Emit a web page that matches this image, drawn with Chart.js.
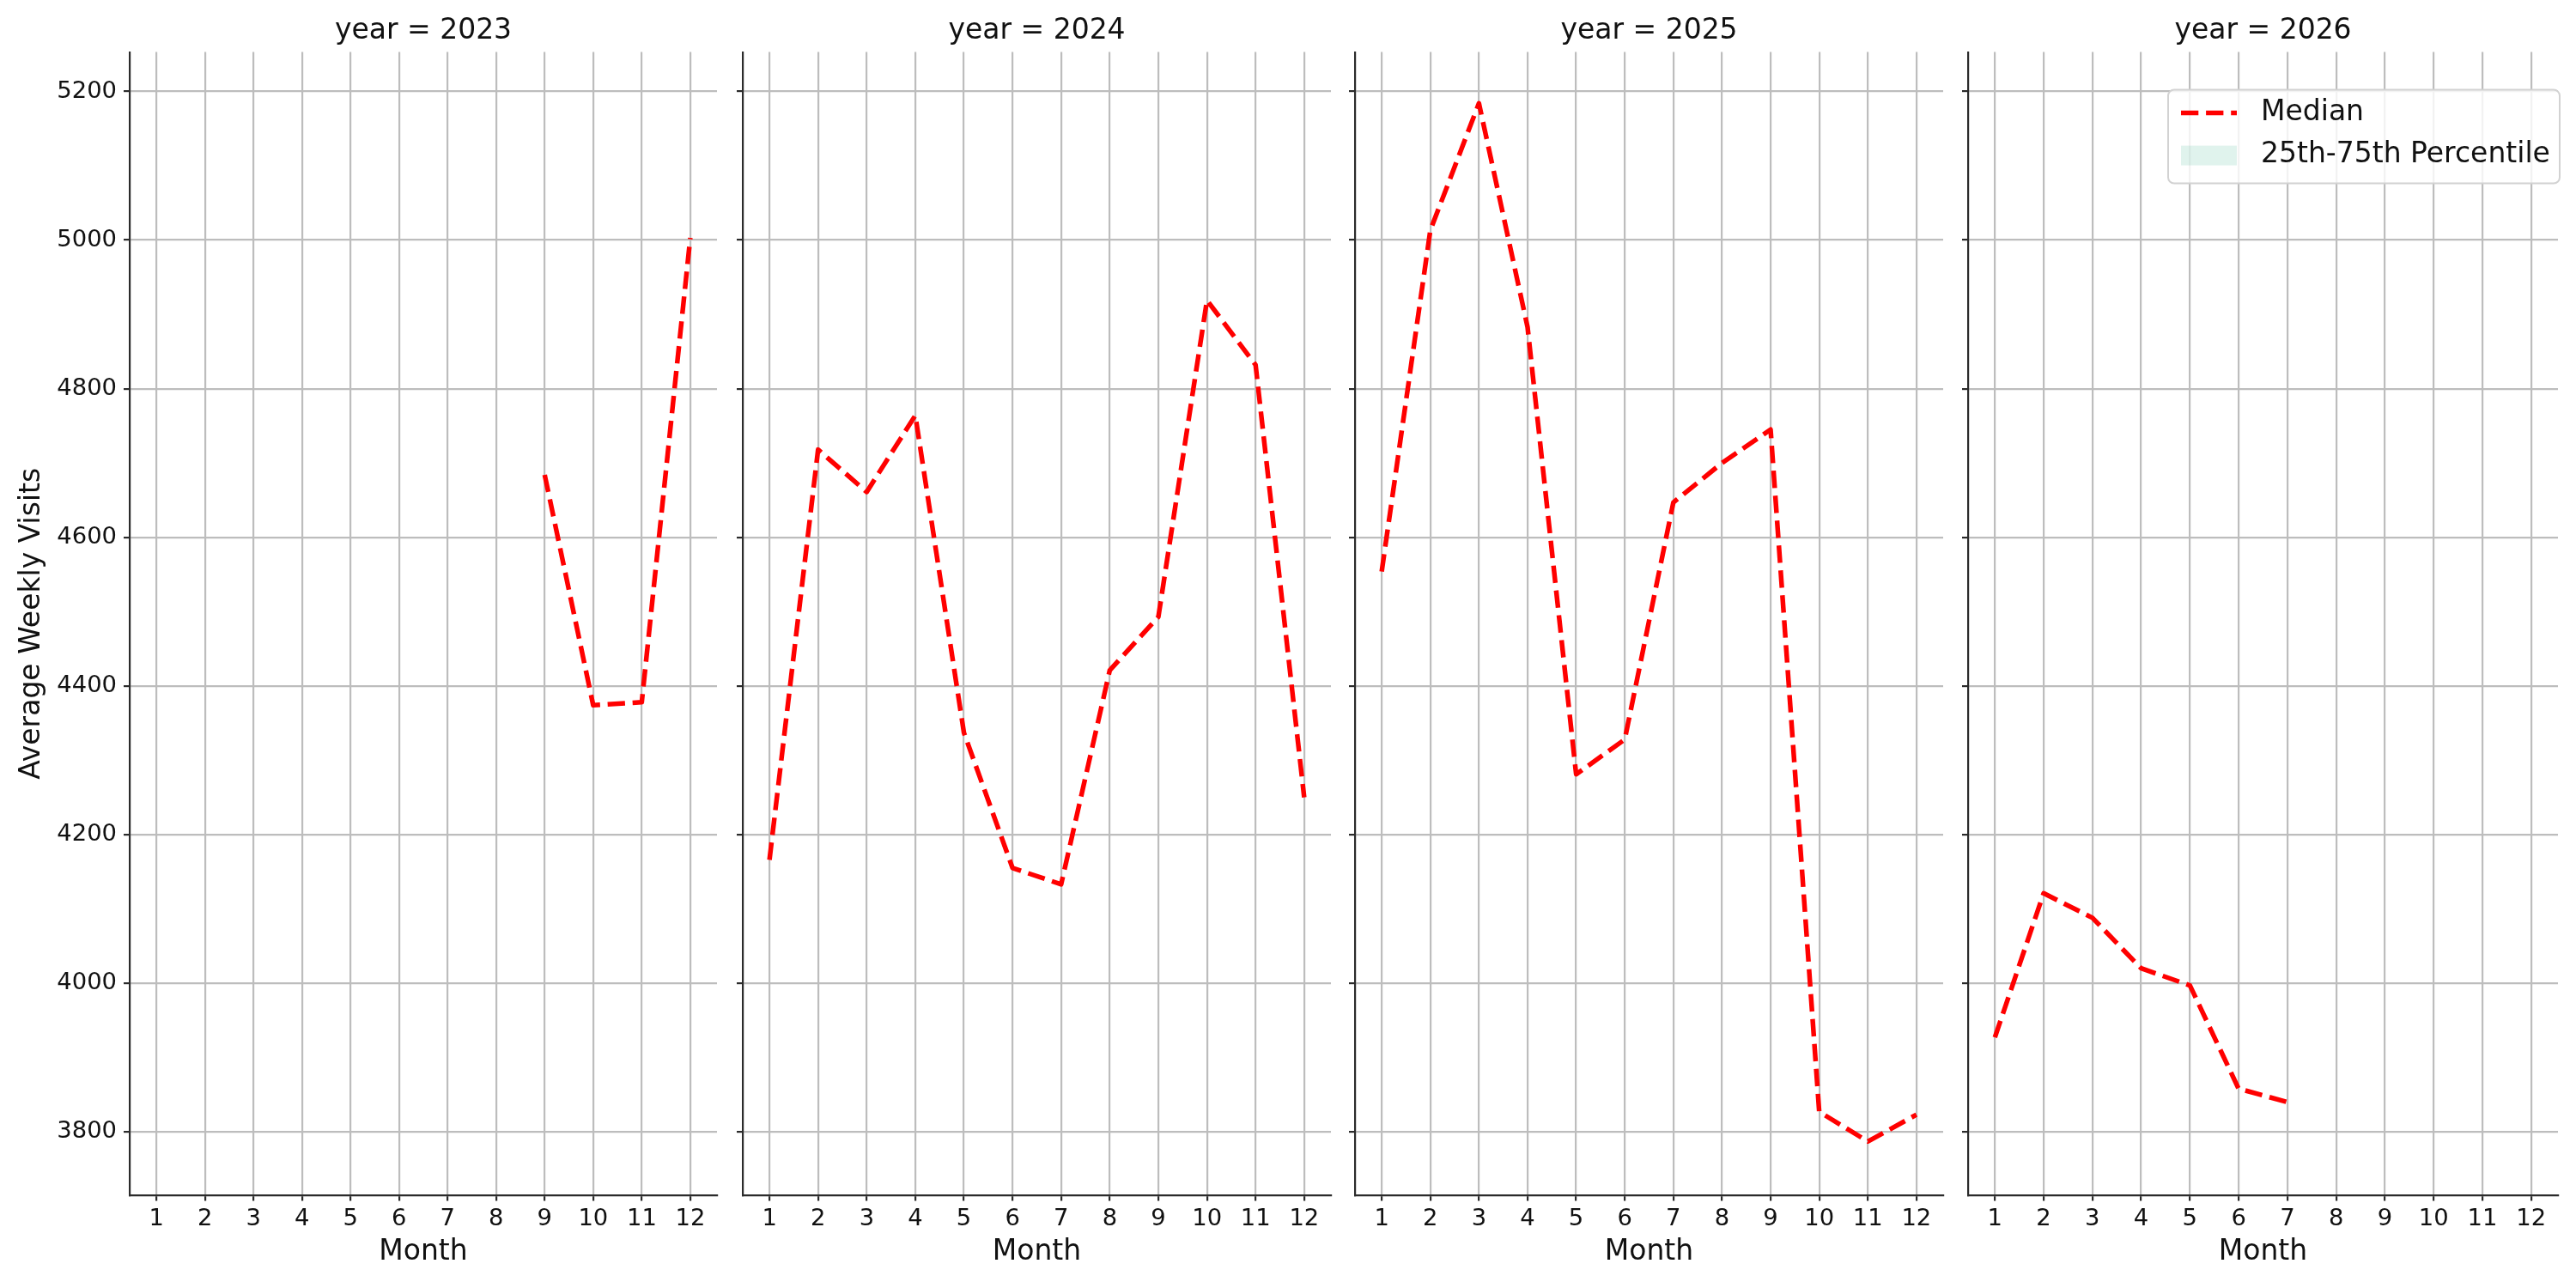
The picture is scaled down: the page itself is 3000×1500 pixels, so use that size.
<!DOCTYPE html>
<html>
<head>
<meta charset="utf-8">
<script src="https://cdn.jsdelivr.net/npm/chart.js@4.4.1/dist/chart.umd.min.js"></script>
<style>
html,body{margin:0;padding:0;background:#fff;}
#wrap{position:relative;width:3000px;height:1500px;overflow:hidden;background:#fff;}
canvas{position:absolute;top:0;}
</style>
</head>
<body>
<div id="wrap"></div>
<script>
// ---- data ----
const years = [2023, 2024, 2025, 2026];
const months = [1, 2, 3, 4, 5, 6, 7, 8, 9, 10, 11, 12];
const yTicks = [3800, 4000, 4200, 4400, 4600, 4800, 5000, 5200];
const median2023 = [null, null, null, null, null, null, null, null, 4684, 4374, 4378, 5003];
const median2024 = [4166, 4718, 4661, 4764, 4337, 4155, 4133, 4421, 4493, 4919, 4832, 4250];
const median2025 = [4554, 5013, 5184, 4883, 4281, 4328, 4647, 4700, 4745, 3827, 3787, 3823];
const median2026 = [3927, 4121, 4088, 4020, 3997, 3858, 3840, null, null, null, null, null];
const medians = [median2023, median2024, median2025, median2026];
const seriesLabels = ['Median', '25th-75th Percentile'];
const xTitle = 'Month';
const yTitle = 'Average Weekly Visits';
const titlePrefix = 'year = ';

// ---- styling / layout ----
const FONT = '"DejaVu Sans", "Liberation Sans", sans-serif';
const TXT = '#111111';
const GRID = '#bdbdbd';
const SPINE = '#2b2b2b';
const panels = [
  {left: 0,    width: 850, yW: 151, padR: 15},
  {left: 855,  width: 705, yW: 10,  padR: 10},
  {left: 1568, width: 705, yW: 10,  padR: 10},
  {left: 2282, width: 718, yW: 10,  padR: 21}
];

const boxLegend = {
  id: 'boxLegend',
  afterDraw(chart, args, opts) {
    if (!opts || !opts.show) return;
    const ctx = chart.ctx, a = chart.chartArea;
    const w = 456, h = 109, r = 7;
    const x0 = a.right + 2 - w, y0 = a.top + 44;
    ctx.save();
    ctx.beginPath();
    ctx.moveTo(x0 + r, y0);
    ctx.lineTo(x0 + w - r, y0);
    ctx.arcTo(x0 + w, y0, x0 + w, y0 + r, r);
    ctx.lineTo(x0 + w, y0 + h - r);
    ctx.arcTo(x0 + w, y0 + h, x0 + w - r, y0 + h, r);
    ctx.lineTo(x0 + r, y0 + h);
    ctx.arcTo(x0, y0 + h, x0, y0 + h - r, r);
    ctx.lineTo(x0, y0 + r);
    ctx.arcTo(x0, y0, x0 + r, y0, r);
    ctx.closePath();
    ctx.fillStyle = 'rgba(255,255,255,0.8)';
    ctx.fill();
    ctx.strokeStyle = '#d2d2d2';
    ctx.lineWidth = 2;
    ctx.stroke();
    chart.data.datasets.forEach((ds, i) => {
      const cy = y0 + 27 + i * 49;
      const hx0 = x0 + 15, hx1 = x0 + 80;
      if (ds.borderDash) {
        ctx.beginPath();
        ctx.setLineDash(ds.borderDash);
        ctx.lineCap = 'butt';
        ctx.strokeStyle = ds.borderColor;
        ctx.lineWidth = ds.borderWidth;
        ctx.moveTo(hx0, cy);
        ctx.lineTo(hx1, cy);
        ctx.stroke();
        ctx.setLineDash([]);
      } else {
        ctx.fillStyle = ds.backgroundColor;
        ctx.fillRect(hx0, cy - 11, hx1 - hx0, 23);
      }
      ctx.fillStyle = TXT;
      ctx.font = '33px ' + FONT;
      ctx.textBaseline = 'middle';
      ctx.textAlign = 'left';
      ctx.fillText(ds.label, x0 + 108, cy);
    });
    ctx.restore();
  }
};

const wrap = document.getElementById('wrap');
years.forEach((year, i) => {
  const p = panels[i];
  const c = document.createElement('canvas');
  c.width = p.width; c.height = 1500;
  c.style.left = p.left + 'px';
  c.style.width = p.width + 'px';
  c.style.height = '1500px';
  wrap.appendChild(c);
  const vals = medians[i];
  const pts = months.map((m, k) => ({x: m, y: vals[k]})).filter(d => d.y !== null);
  new Chart(c, {
    type: 'line',
    data: {
      datasets: [
        {label: seriesLabels[0], data: pts, borderColor: '#ff0000', borderWidth: 5.5,
         borderDash: [20.3, 8.8], borderCapStyle: 'butt', borderJoinStyle: 'round',
         pointRadius: 0, fill: false, tension: 0},
        {label: seriesLabels[1], data: [], backgroundColor: 'rgba(102,194,165,0.2)',
         borderWidth: 0, pointRadius: 0, fill: false}
      ]
    },
    options: {
      responsive: false, animation: false, devicePixelRatio: 1,
      layout: {padding: {left: 0, right: p.padR, top: 0, bottom: 0}},
      plugins: {
        legend: {display: false},
        tooltip: {enabled: false},
        title: {display: true, text: titlePrefix + year, fullSize: false, color: TXT,
                font: {family: FONT, size: 33, weight: 'normal'}, padding: {top: 17, bottom: 4}},
        boxLegend: {show: i === years.length - 1}
      },
      scales: {
        x: {
          type: 'linear', min: 0.45, max: 12.55,
          afterBuildTicks: s => { s.ticks = months.map(v => ({value: v})); },
          afterFit: s => { s.height = 108; },
          ticks: {font: {family: FONT, size: 27.4}, color: TXT, padding: 5, maxRotation: 0,
                  autoSkip: false, callback: v => String(v)},
          grid: {color: GRID, lineWidth: 2.2, tickLength: 6.5, tickColor: SPINE, tickWidth: 2.2},
          border: {color: SPINE, width: 2.2},
          title: {display: true, text: xTitle, color: TXT, font: {family: FONT, size: 33},
                  padding: {top: 4, bottom: 22}}
        },
        y: {
          type: 'linear', min: 3714.6, max: 5253,
          afterBuildTicks: s => { s.ticks = yTicks.map(v => ({value: v})); },
          afterFit: s => { s.width = p.yW; },
          ticks: {font: {family: FONT, size: 27.4}, color: TXT, padding: 8,
                  callback: i === 0 ? (v => String(v)) : (() => '')},
          grid: {color: GRID, lineWidth: 2.2, tickLength: 7, tickColor: SPINE, tickWidth: 2.2},
          border: {color: SPINE, width: 2.2},
          title: {display: i === 0, text: yTitle, color: TXT, font: {family: FONT, size: 33},
                  padding: {top: 18, bottom: 0}}
        }
      }
    },
    plugins: [boxLegend]
  });
});
</script>
</body>
</html>
